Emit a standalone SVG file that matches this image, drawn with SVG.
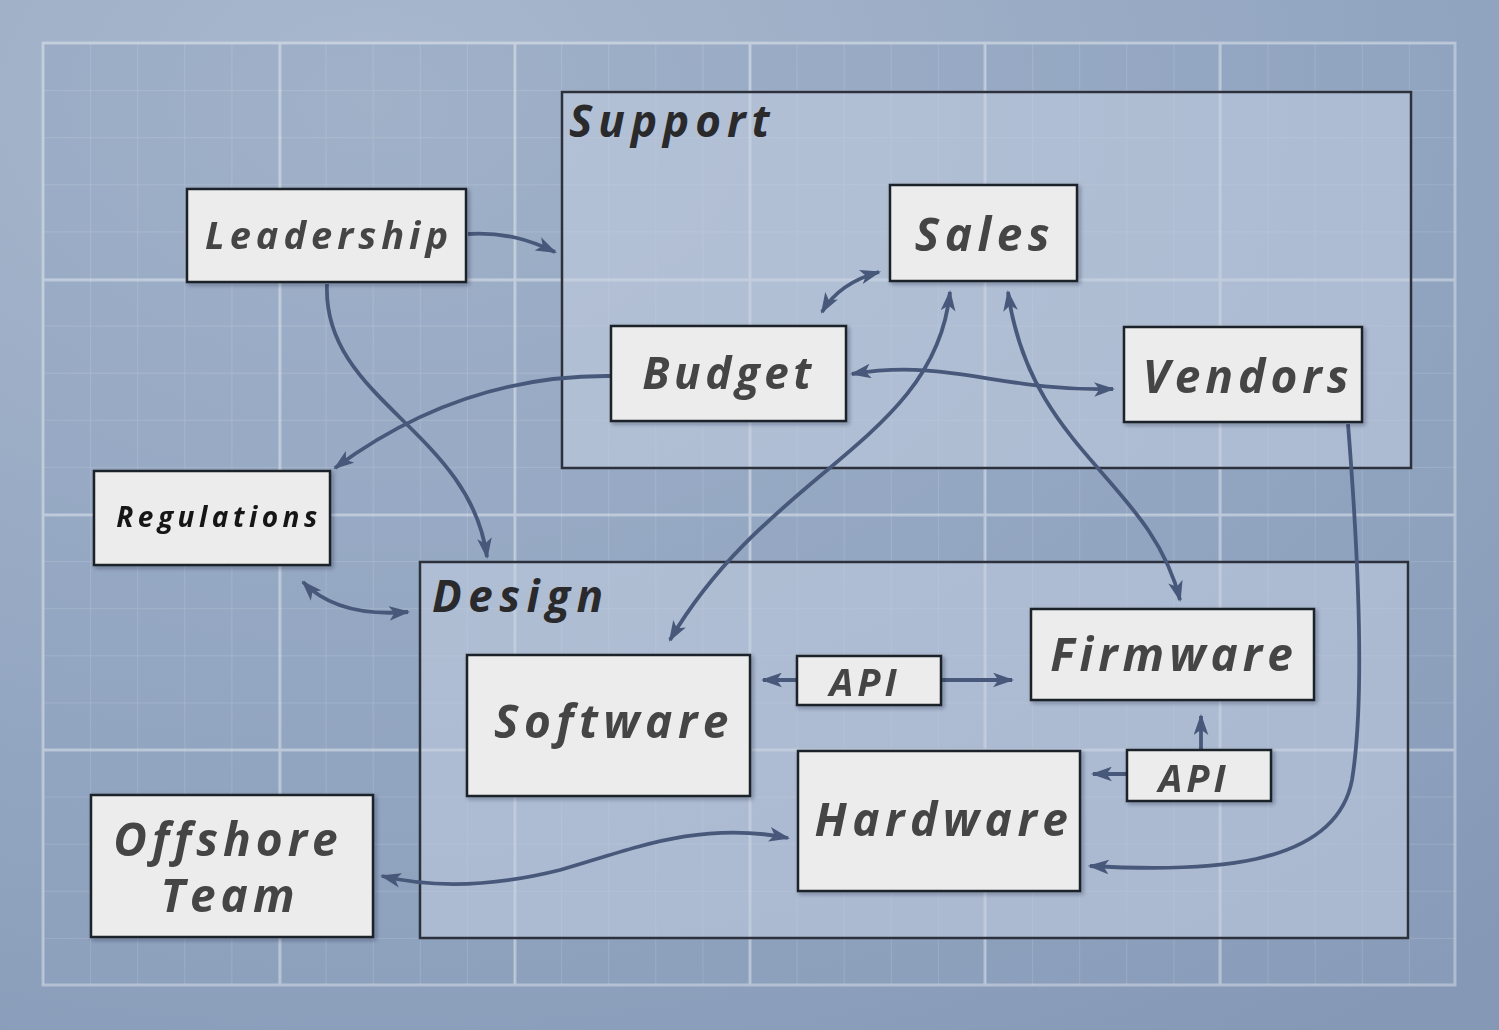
<svg xmlns="http://www.w3.org/2000/svg" width="1499" height="1030" viewBox="0 0 1499 1030">
<defs>
<radialGradient id="bg" cx="0.25" cy="0.1" r="1.1">
<stop offset="0" stop-color="#a9b8cd"/>
<stop offset="0.6" stop-color="#93a6c1"/>
<stop offset="1" stop-color="#8598b6"/>
</radialGradient>
<pattern id="minor" x="43" y="43" width="47.1" height="47.1" patternUnits="userSpaceOnUse">
<path d="M0,0 V47.1 M0,0 H47.1" fill="none" stroke="#ffffff" stroke-opacity="0.16" stroke-width="1.5"/>
</pattern>
<marker id="ah" viewBox="0 0 20 14" refX="18" refY="7" markerWidth="21" markerHeight="15" markerUnits="userSpaceOnUse" orient="auto-start-reverse">
<path d="M0,0 L20,7 L0,14 L5,7 Z" fill="#47587a"/>
</marker>
<filter id="sh" x="-10%" y="-10%" width="130%" height="130%">
<feDropShadow dx="2" dy="2" stdDeviation="2" flood-color="#1c2433" flood-opacity="0.35"/>
</filter>
<filter id="ts" x="-5%" y="-20%" width="110%" height="140%">
<feGaussianBlur stdDeviation="0.6"/>
</filter>
</defs>
<style>
.node{fill:#ececec;stroke:#1f2229;stroke-width:2.5;filter:url(#sh)}
.lbl{font-family:"Open Sans","DejaVu Sans",sans-serif;font-style:italic;font-weight:700;fill:#454545;text-anchor:middle}
.cont{fill:#c4d0e1;fill-opacity:0.55;stroke:#2c313c;stroke-width:2.5}
.ctitle{font-family:"Open Sans","DejaVu Sans",sans-serif;font-style:italic;font-weight:700;fill:#2a2a2c}
.c{fill:none;stroke:#47587a;stroke-width:3.8}
.major{stroke:#ffffff;stroke-opacity:0.35;stroke-width:3;fill:none}
</style>
<rect x="0" y="0" width="1499" height="1030" fill="url(#bg)"/>
<g id="grid">
<rect x="43" y="43" width="1412" height="942" fill="#8ea2bf" fill-opacity="0.35"/>
<rect x="43" y="43" width="1412" height="942" fill="url(#minor)"/>
<path class="major" d="M43,43 H1455 V985 H43 Z M280,43 V985 M515,43 V985 M750,43 V985 M985,43 V985 M1220,43 V985 M43,280 H1455 M43,515 H1455 M43,750 H1455"/>
</g>
<g id="support">
<rect class="cont" x="562" y="92" width="849" height="376"/>
<text class="ctitle" x="569" y="137" font-size="44" letter-spacing="6">Support</text>
</g>
<g id="design">
<rect class="cont" x="420" y="562" width="988" height="376"/>
<text class="ctitle" x="432" y="612" font-size="44" letter-spacing="6.5">Design</text>
</g>
<g id="connectors">
<path class="c" d="M468,234 C505,232 530,240 555,252" marker-end="url(#ah)"/>
<path class="c" d="M327,284 C322,400 470,430 487,557" marker-end="url(#ah)"/>
<path class="c" d="M610,376 C490,375 400,420 335,468" marker-end="url(#ah)"/>
<path class="c" d="M879,272 C850,280 832,295 822,312" marker-start="url(#ah)" marker-end="url(#ah)"/>
<path class="c" d="M852,374 C950,358 1000,392 1113,389" marker-start="url(#ah)" marker-end="url(#ah)"/>
<path class="c" d="M950,292 C935,440 770,470 670,640" marker-start="url(#ah)" marker-end="url(#ah)"/>
<path class="c" d="M1008,292 C1030,450 1150,480 1180,600" marker-start="url(#ah)" marker-end="url(#ah)"/>
<path class="c" d="M1348,424 C1358,550 1365,700 1352,780 C1335,870 1200,872 1090,866" marker-end="url(#ah)"/>
<path class="c" d="M797,680 H763" marker-end="url(#ah)"/>
<path class="c" d="M941,680 H1012" marker-end="url(#ah)"/>
<path class="c" d="M1127,774 H1093" marker-end="url(#ah)"/>
<path class="c" d="M1201,750 V716" marker-end="url(#ah)"/>
<path class="c" d="M788,838 C700,820 630,850 560,870 C480,890 420,885 382,876" marker-start="url(#ah)" marker-end="url(#ah)"/>
<path class="c" d="M303,582 C330,610 370,615 408,612" marker-start="url(#ah)" marker-end="url(#ah)"/>
</g>
<g id="leadership">
<rect class="node" x="187" y="189" width="279" height="93"/>
<text class="lbl" x="329" y="249" font-size="38" letter-spacing="5" filter="url(#ts)">Leadership</text>
</g>
<g id="sales">
<rect class="node" x="890" y="185" width="187" height="96"/>
<text class="lbl" x="985" y="251" font-size="46" letter-spacing="5.5" filter="url(#ts)">Sales</text>
</g>
<g id="budget">
<rect class="node" x="611" y="326" width="235" height="95"/>
<text class="lbl" x="729" y="389" font-size="44" letter-spacing="4.5" filter="url(#ts)">Budget</text>
</g>
<g id="vendors">
<rect class="node" x="1124" y="327" width="238" height="95"/>
<text class="lbl" x="1248" y="393" font-size="46" letter-spacing="5" filter="url(#ts)">Vendors</text>
</g>
<g id="regulations">
<rect class="node" x="94" y="471" width="236" height="94"/>
<text class="lbl" x="219" y="527" font-size="28" letter-spacing="4.5" style="fill:#151515" filter="url(#ts)">Regulations</text>
</g>
<g id="software">
<rect class="node" x="467" y="655" width="283" height="141"/>
<text class="lbl" x="614" y="738" font-size="46" letter-spacing="5.5" filter="url(#ts)">Software</text>
</g>
<g id="api1">
<rect class="node" x="797" y="656" width="144" height="49"/>
<text class="lbl" x="865" y="696" font-size="38" letter-spacing="4" filter="url(#ts)">API</text>
</g>
<g id="firmware">
<rect class="node" x="1031" y="609" width="283" height="91"/>
<text class="lbl" x="1174" y="671" font-size="46" letter-spacing="5" filter="url(#ts)">Firmware</text>
</g>
<g id="hardware">
<rect class="node" x="798" y="751" width="282" height="140"/>
<text class="lbl" x="944" y="836" font-size="46" letter-spacing="5.5" filter="url(#ts)">Hardware</text>
</g>
<g id="api2">
<rect class="node" x="1127" y="750" width="144" height="51"/>
<text class="lbl" x="1194" y="792" font-size="38" letter-spacing="4" filter="url(#ts)">API</text>
</g>
<g id="offshore">
<rect class="node" x="91" y="795" width="282" height="142"/>
<text class="lbl" x="228" y="856" font-size="46" letter-spacing="5" filter="url(#ts)">Offshore</text>
<text class="lbl" x="230" y="912" font-size="46" letter-spacing="5" filter="url(#ts)">Team</text>
</g>
</svg>
